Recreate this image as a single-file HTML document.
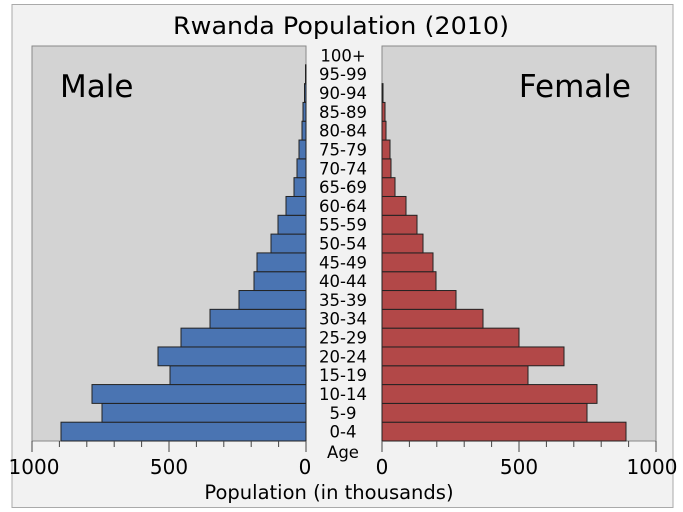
<!DOCTYPE html>
<html><head><meta charset="utf-8"><style>
html,body{margin:0;padding:0;background:#fff;}
svg{display:block;}
text{font-family:"DejaVu Sans","Liberation Sans",sans-serif;fill:#000;}
</style></head><body>
<svg width="683" height="512" viewBox="0 0 683 512" xmlns="http://www.w3.org/2000/svg">
<rect x="12" y="4.5" width="661" height="503" fill="#f2f2f2" stroke="#aaa" stroke-width="1"/>
<text x="341" y="34" font-size="24" text-anchor="middle" textLength="336" lengthAdjust="spacingAndGlyphs">Rwanda Population (2010)</text>
<rect x="32" y="46" width="274" height="395" fill="#d3d3d3" stroke="#888" stroke-width="1"/>
<rect x="382" y="46" width="274" height="395" fill="#d3d3d3" stroke="#888" stroke-width="1"/>
<text x="60" y="97" font-size="31">Male</text>
<text x="631" y="97" font-size="31" text-anchor="end">Female</text>
<g id="bars" stroke="#222" stroke-width="1"></g>
<g id="labels" font-size="16.5" text-anchor="middle"></g>
<g id="ticks" stroke="#444" stroke-width="1"></g>
<g font-size="20" text-anchor="middle">
<text x="34" y="474">1000</text><text x="169" y="474">500</text><text x="305" y="474">0</text>
<text x="382" y="474">0</text><text x="519" y="474">500</text><text x="652" y="474">1000</text>
</g>
<text x="343" y="458" font-size="16.5" text-anchor="middle">Age</text>
<text x="329" y="499" font-size="19.5" text-anchor="middle">Population (in thousands)</text>
<script>
var ns="http://www.w3.org/2000/svg";
var labels=["0-4","5-9","10-14","15-19","20-24","25-29","30-34","35-39","40-44","45-49","50-54","55-59","60-64","65-69","70-74","75-79","80-84","85-89","90-94","95-99","100+"];
var mx=[61,102,92,170,158,181,210,239,254,257,271,278,286,294,297,299,302,303,304.5,305.5,306];
var fx=[626,587,597,528,564,519,483,456,436,433,423,417,406,395,391,390,386,385,383,382,382];
var h=395/21,b=document.getElementById("bars"),l=document.getElementById("labels"),t=document.getElementById("ticks");
for(var i=0;i<21;i++){
 var y=441-(i+1)*h;
 if(mx[i]<306){var r=document.createElementNS(ns,"rect");r.setAttribute("x",mx[i]);r.setAttribute("y",y);r.setAttribute("width",306-mx[i]);r.setAttribute("height",h);r.setAttribute("fill","#4a74b2");b.appendChild(r);}
 if(fx[i]>382){var r2=document.createElementNS(ns,"rect");r2.setAttribute("x",382);r2.setAttribute("y",y);r2.setAttribute("width",fx[i]-382);r2.setAttribute("height",h);r2.setAttribute("fill","#b24848");b.appendChild(r2);}
 var tx=document.createElementNS(ns,"text");tx.setAttribute("x",343);tx.setAttribute("y",y+h/2+6);tx.textContent=labels[i];l.appendChild(tx);
}
for(var k=0;k<=10;k++){
 var len=(k%5==0)?11:6;
 var x1=306-k*27.4,x2=382+k*27.4;
 [x1,x2].forEach(function(x){var ln=document.createElementNS(ns,"line");ln.setAttribute("x1",x);ln.setAttribute("x2",x);ln.setAttribute("y1",441);ln.setAttribute("y2",441+len);t.appendChild(ln);});
}
</script>
</svg>
</body></html>
